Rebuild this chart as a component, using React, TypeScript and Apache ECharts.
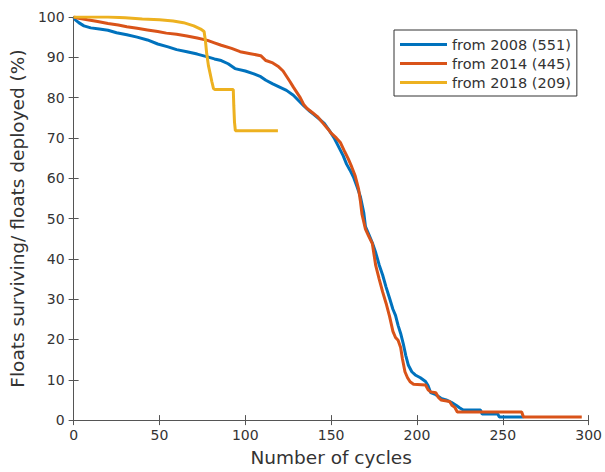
import React, { useEffect, useRef } from "react";
import * as echarts from "echarts";

// Survival of floats vs. number of profiling cycles, by deployment cohort.
const seriesNames = ["from 2008 (551)", "from 2014 (445)", "from 2018 (209)"];
const seriesColors = ["#0072BD", "#D95319", "#EDB120"];

// [cycle, % surviving]
const cohort2008: [number, number][] = [
  [0, 100], [1, 99.3], [3, 98.6], [6, 97.8], [10, 97.3], [15, 97], [20, 96.7], [25, 96.1],
  [31, 95.6], [37, 95], [43, 94.3], [49, 93.3], [55, 92.6], [60, 91.9], [66, 91.4], [72, 90.8],
  [78, 90.1], [82, 89.6], [86, 89.2], [90, 88.4], [94, 87.2], [100, 86.6], [105, 85.9],
  [109, 85.2], [112, 84.3], [116, 83.4], [120, 82.6], [124, 81.8], [128, 80.6], [131, 79.3],
  [134, 78], [137, 76.8], [140, 75.8], [143, 74.7], [146, 73.6], [149, 71.8], [152, 69.8],
  [155, 67.3], [157, 65.6], [159, 63.5], [161, 62], [163, 60.3], [165, 58], [167, 55.5],
  [169, 51.5], [170, 48], [172, 46], [174, 44], [176, 41.5], [178, 38.5], [180, 36], [182, 33],
  [184, 30.3], [186, 27.5], [187.5, 26], [189, 23.5], [190.5, 21.5], [192, 19], [193.5, 16],
  [195, 13.6], [197, 12], [199, 11.2], [202, 10.5], [205, 9.6], [206.5, 8.5], [208, 6.8],
  [211, 6.3], [214, 5.4], [217, 5], [220, 4.4], [223, 3.6], [225, 3], [227, 2.5], [237, 2.5],
  [238, 1.5], [247, 1.5], [248, 0.8], [262, 0.8],
];

const cohort2014: [number, number][] = [
  [0, 100], [3, 99.7], [8, 99.3], [14, 98.9], [20, 98.4], [26, 98], [31, 97.6], [37, 97.2],
  [43, 96.8], [49, 96.4], [54, 96], [60, 95.7], [66, 95.3], [72, 94.8], [78, 94.2], [82, 93.6],
  [86, 93], [92, 92.2], [97, 91.4], [103, 90.9], [109, 90.4], [112, 89.2], [116, 88.6],
  [119, 87.8], [122, 86.6], [124, 85.3], [126, 84], [128, 82.6], [130, 81.3], [132, 80],
  [134, 78.3], [136, 77.3], [139, 76.3], [142, 75.3], [145, 73.8], [148, 72.3], [150, 71.2],
  [153, 70], [155.5, 68.8], [158, 66.5], [160, 64.8], [162, 62.8], [164, 60.6], [165, 59],
  [166, 57.3], [167, 54.5], [168, 51], [170, 47.4], [172, 45.5], [174, 43.8], [175, 41],
  [176, 38.3], [178, 35], [180, 31.8], [182, 29], [184, 25.8], [186, 22], [187.5, 20.5],
  [189, 19.8], [190.5, 18], [191.5, 15.3], [193, 12], [194.5, 10.5], [196, 9.5], [198, 8.9],
  [205, 8.7], [206.5, 7.5], [208, 7], [211, 6.8], [212.5, 5.6], [214, 5], [219, 4.6],
  [220.5, 3.6], [222, 3.2], [223.5, 2], [261, 2], [262, 0.8], [296, 0.8],
];

const cohort2018: [number, number][] = [
  [0, 100], [20, 100], [30, 99.8], [40, 99.5], [50, 99.3], [58, 99], [64, 98.6], [70, 97.8],
  [74, 97], [76, 96.4], [76.8, 94], [77.5, 91], [78.5, 88], [79.5, 86], [80.5, 84],
  [81.5, 82.2], [82.5, 82], [93, 82], [93.3, 78], [93.7, 74], [94.2, 71.8], [119, 71.8],
];

const xTicks = { min: 0, max: 300, interval: 50 };
const yTicks = { min: 0, max: 100, interval: 10 };

const FONT = "DejaVu Sans";
const AXIS_COLOR = "#555555";
const TEXT_COLOR = "#333333";

export default function App() {
  const ref = useRef<HTMLDivElement>(null);

  useEffect(() => {
    if (!ref.current) return;
    const chart = echarts.init(ref.current, undefined, { renderer: "svg" });

    const tick = { show: true, inside: true, length: 5, lineStyle: { color: AXIS_COLOR, width: 1 } };
    const line = { show: true, lineStyle: { color: AXIS_COLOR, width: 1 } };

    const datasets = [cohort2008, cohort2014, cohort2018];

    chart.setOption({
      animation: false,
      backgroundColor: "#ffffff",
      textStyle: { fontFamily: FONT },
      grid: { left: 73, right: 16, top: 17, bottom: 50, containLabel: false },
      legend: {
        data: seriesNames,
        orient: "vertical",
        left: 394,
        top: 30,
        icon: "rect",
        itemWidth: 47,
        itemHeight: 3,
        itemGap: 4,
        padding: [7, 6, 6, 6],
        borderColor: "#333333",
        borderWidth: 1,
        backgroundColor: "#ffffff",
        textStyle: { fontFamily: FONT, fontSize: 14.5, color: TEXT_COLOR, lineHeight: 14 },
      },
      xAxis: [
        {
          type: "value",
          ...xTicks,
          position: "bottom",
          name: "Number of cycles",
          nameLocation: "middle",
          nameGap: 24,
          nameTextStyle: { fontFamily: FONT, fontSize: 18.5, color: TEXT_COLOR, lineHeight: 20 },
          axisLine: line,
          axisTick: tick,
          splitLine: { show: false },
          axisLabel: { fontFamily: FONT, fontSize: 14, color: TEXT_COLOR, margin: 8 },
        },
        {
          type: "value",
          ...xTicks,
          position: "top",
          axisLine: line,
          axisTick: tick,
          splitLine: { show: false },
          axisLabel: { show: false },
        },
      ],
      yAxis: [
        {
          type: "value",
          ...yTicks,
          position: "left",
          name: "Floats surviving/ floats deployed (%)",
          nameLocation: "middle",
          nameGap: 45,
          nameTextStyle: { fontFamily: FONT, fontSize: 18.5, color: TEXT_COLOR },
          axisLine: line,
          axisTick: tick,
          splitLine: { show: false },
          axisLabel: { fontFamily: FONT, fontSize: 14, color: TEXT_COLOR, margin: 9 },
        },
        {
          type: "value",
          ...yTicks,
          position: "right",
          axisLine: line,
          axisTick: tick,
          splitLine: { show: false },
          axisLabel: { show: false },
        },
      ],
      series: datasets.map((d, i) => ({
        name: seriesNames[i],
        type: "line",
        xAxisIndex: 0,
        yAxisIndex: 0,
        data: d,
        showSymbol: false,
        symbol: "none",
        color: seriesColors[i],
        lineStyle: { color: seriesColors[i], width: 3 },
        z: 3 + i,
      })),
    });

    return () => chart.dispose();
  }, []);

  return (
    <div
      ref={ref}
      style={{ position: "absolute", left: 0, top: 0, width: 605, height: 472 }}
    />
  );
}
